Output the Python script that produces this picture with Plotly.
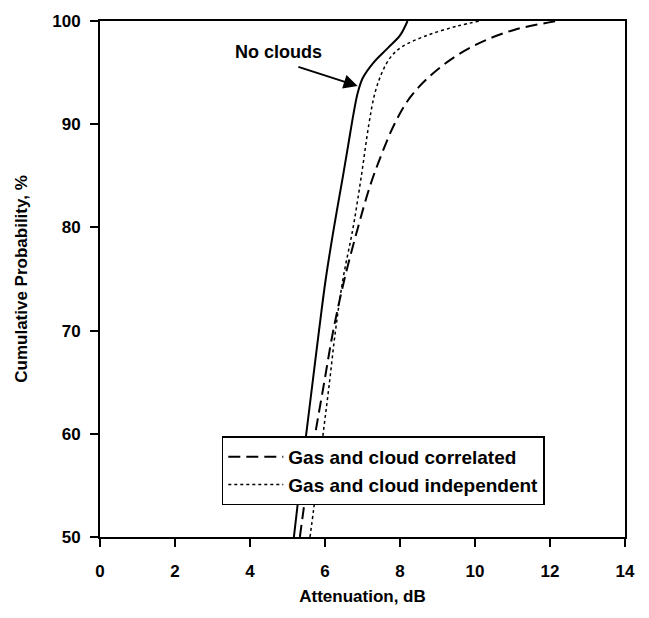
import plotly.graph_objects as go

# Data (Attenuation dB vs cumulative probability %)
noclouds_p = [50, 55, 60, 65, 70, 75, 80, 85, 88, 91, 93, 94.5, 96, 97.4, 98.6, 100]
noclouds_x = [5.17, 5.33, 5.5, 5.67, 5.84, 6.02, 6.24, 6.48, 6.62, 6.76, 6.87, 7.01, 7.3, 7.68, 8.0, 8.2]

indep_p = [50, 55, 60, 65, 70, 75, 80, 85, 90, 93, 95, 96.5, 97.5, 98.6, 99.5, 100]
indep_x = [5.6, 5.78, 5.95, 6.12, 6.28, 6.48, 6.75, 6.97, 7.17, 7.33, 7.52, 7.75, 8.05, 8.72, 9.52, 10.13]

corr_p = [50, 55, 60, 65, 70, 75, 80, 84, 87, 90, 92.5, 94.5, 96.5, 98, 99.2, 100]
corr_x = [5.33, 5.52, 5.74, 5.98, 6.22, 6.52, 6.88, 7.2, 7.5, 7.85, 8.25, 8.75, 9.45, 10.2, 11.1, 12.2]

x_ticks = [0, 2, 4, 6, 8, 10, 12, 14]
y_ticks = [50, 60, 70, 80, 90, 100]

FONT = "Arial, Liberation Sans, sans-serif"
TICKFONT = dict(family=FONT, size=17, color="black", weight="bold")
TITLEFONT = dict(family=FONT, size=17, color="black", weight="bold")

fig = go.Figure()
fig.add_trace(go.Scatter(x=noclouds_x, y=noclouds_p, mode="lines", line=dict(color="black", width=2),
                         line_shape="spline", showlegend=False, name="No clouds"))
fig.add_trace(go.Scatter(x=corr_x, y=corr_p, mode="lines", line=dict(color="black", width=2, dash="12px,6px"),
                         line_shape="spline", name="Gas and cloud correlated"))
fig.add_trace(go.Scatter(x=indep_x, y=indep_p, mode="lines", line=dict(color="black", width=1.5, dash="dot"),
                         line_shape="spline", name="Gas and cloud independent"))

fig.add_annotation(x=6.87, y=93.7, ax=5.25, ay=95.6, xref="x", yref="y", axref="x", ayref="y",
                   showarrow=True, arrowhead=2, arrowsize=1.4, arrowwidth=2, arrowcolor="black", text="")
fig.add_annotation(x=4.75, y=97.0, xref="x", yref="y", text="No clouds", showarrow=False,
                   font=dict(family=FONT, size=18, color="black", weight="bold"))

fig.update_layout(
    width=649, height=618,
    margin=dict(l=100, r=24, t=15, b=81),
    paper_bgcolor="white", plot_bgcolor="white",
    font=dict(family=FONT, color="black"),
    legend=dict(x=0.232, y=0.195, xanchor="left", yanchor="top", bgcolor="white",
                bordercolor="black", borderwidth=1.5, itemwidth=55,
                font=dict(family=FONT, size=19, color="black", weight="bold"), tracegroupgap=0),
    xaxis=dict(range=[0, 14], tickvals=x_ticks, ticktext=[str(v) for v in x_ticks],
               showgrid=False, zeroline=False, showline=True, linecolor="black", linewidth=2,
               mirror=True, ticks="outside", ticklen=8, tickwidth=1.5, tickcolor="black",
               ticklabelstandoff=10, tickfont=TICKFONT,
               title=dict(text="Attenuation, dB", font=TITLEFONT, standoff=10)),
    yaxis=dict(range=[50, 100], tickvals=y_ticks, ticktext=[str(v) for v in y_ticks],
               showgrid=False, zeroline=False, showline=True, linecolor="black", linewidth=2,
               mirror=True, ticks="outside", ticklen=8, tickwidth=1.5, tickcolor="black",
               ticklabelstandoff=6, tickfont=TICKFONT,
               title=dict(text="Cumulative Probability, %", font=TITLEFONT, standoff=20)),
)

fig.write_html("out.html")
